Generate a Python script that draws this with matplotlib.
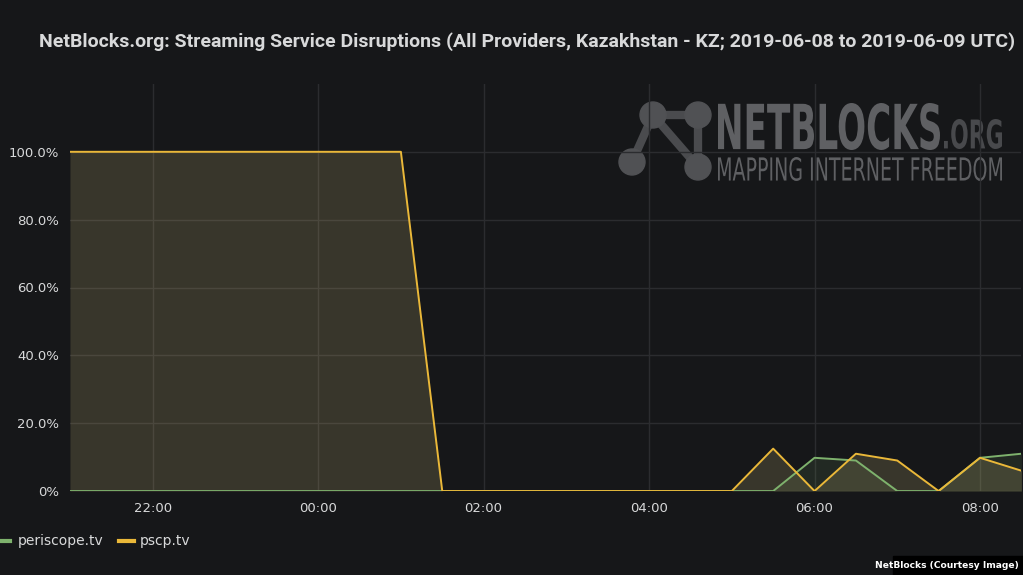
import matplotlib
matplotlib.use("Agg")
import matplotlib.pyplot as plt
import matplotlib.dates as mdates
import numpy as np
import pandas as pd
from matplotlib.patches import Circle, Rectangle, PathPatch
from matplotlib.textpath import TextPath
from matplotlib.font_manager import FontProperties
from matplotlib.transforms import Affine2D

times = pd.date_range("2019-06-08 21:00", "2019-06-09 08:30", freq="30min")
pscp = [100, 100, 100, 100, 100, 100, 100, 100, 100,
        0, 0, 0, 0, 0, 0, 0, 0,
        12.5, 0, 11.0, 9.0, 0, 9.8, 6.0]
periscope = [0, 0, 0, 0, 0, 0, 0, 0, 0,
             0, 0, 0, 0, 0, 0, 0, 0,
             0, 9.8, 9.0, 0, 0, 9.8, 11.0]
yticks = [0, 20, 40, 60, 80, 100]
ytick_labels = ["0%", "20.0%", "40.0%", "60.0%", "80.0%", "100.0%"]
title = "NetBlocks.org: Streaming Service Disruptions (All Providers, Kazakhstan - KZ; 2019-06-08 to 2019-06-09 UTC)"

BG = "#161719"
GRID = "#2b2c2f"
TXT = "#d8d9da"
GREEN = "#7eb26d"
YELLOW = "#eab839"
FILL_Y = "#d0bc7a"

fig = plt.figure(figsize=(10.23, 5.75), dpi=100, facecolor=BG)

# watermark layer (pixel coordinates), underneath the chart
lax = fig.add_axes([0, 0, 1, 1], zorder=0)
lax.set_xlim(0, 1023)
lax.set_ylim(575, 0)
lax.axis("off")

def text_box(s, x0, x1, y0, y1, color, weight="bold", family="DejaVu Sans"):
    tp = TextPath((0, 0), s, size=100, prop=FontProperties(family=family, weight=weight))
    ext = tp.get_extents()
    sx = (x1 - x0) / ext.width
    sy = (y1 - y0) / ext.height
    tr = Affine2D().translate(-ext.x0, -ext.y0).scale(sx, -sy).translate(x0, y1)
    lax.add_patch(PathPatch(tr.transform_path(tp), color=color, lw=0, zorder=1))

wm = "#5f6063"
text_box("NETBLOCKS", 718, 940, 103, 150, wm)
text_box(".ORG", 944, 1002, 119, 149, "#48494c")
text_box("MAPPING INTERNET FREEDOM", 718, 1002, 157, 181, wm, weight="normal")
nodes = [(653, 115), (698, 115), (632, 162), (698, 167)]
edges = [(0, 1), (0, 2), (0, 3), (1, 3)]
for i, j in edges:
    lax.plot([nodes[i][0], nodes[j][0]], [nodes[i][1], nodes[j][1]], color="#4a4b4e", lw=6, zorder=1)
for (x, y) in nodes:
    lax.add_patch(Circle((x, y), 13, color="#505154", zorder=2))

ax = fig.add_axes([0.0684, 0.146, 0.930, 0.708], zorder=1)
ax.patch.set_alpha(0)

ax.fill_between(times, periscope, 0, color=GREEN, alpha=0.12, lw=0)
ax.fill_between(times, pscp, 0, color=FILL_Y, alpha=0.19, lw=0)
ax.plot(times, periscope, color=GREEN, lw=1.4)
ax.plot(times, pscp, color=YELLOW, lw=1.4)

ax.set_xlim(times[0], times[-1])
ax.set_ylim(0, 120)
ax.set_yticks(yticks)
ax.set_yticklabels(ytick_labels)
ax.xaxis.set_major_locator(mdates.HourLocator(byhour=range(0, 24, 2)))
ax.xaxis.set_major_formatter(mdates.DateFormatter("%H:%M"))
ax.grid(True, color=GRID, lw=1)
ax.set_axisbelow(True)
for s in ax.spines.values():
    s.set_visible(False)
ax.tick_params(colors=TXT, labelsize=9.5, length=0, pad=8)

fig.text(0.515, 0.927, title, color=TXT, fontsize=14.0, fontweight="bold",
         family="Roboto", ha="center", va="center")

# legend
fig.add_artist(plt.Line2D([0.0, 0.01], [0.059, 0.059], color=GREEN, lw=3, transform=fig.transFigure))
fig.text(0.017, 0.059, "periscope.tv", color=TXT, fontsize=10, va="center")
fig.add_artist(plt.Line2D([0.116, 0.131], [0.059, 0.059], color=YELLOW, lw=3, transform=fig.transFigure))
fig.text(0.137, 0.059, "pscp.tv", color=TXT, fontsize=10, va="center")

# credit box
fig.add_artist(Rectangle((0.873, 0.0), 0.127, 0.033, transform=fig.transFigure, color="black", zorder=5))
fig.text(0.996, 0.016, "NetBlocks (Courtesy Image)", color="white", fontsize=6.6,
         fontweight="bold", ha="right", va="center", zorder=6)

fig.savefig("out.png", dpi=100, facecolor=BG)
